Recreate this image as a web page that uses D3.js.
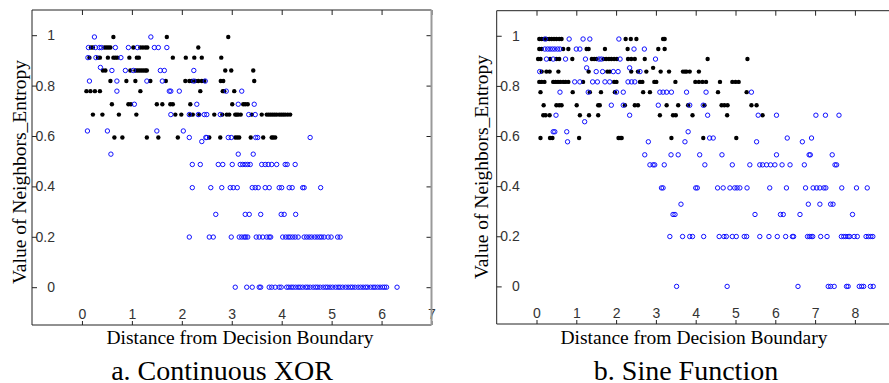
<!DOCTYPE html>
<html>
<head>
<meta charset="utf-8">
<script src="https://cdn.jsdelivr.net/npm/d3@7"></script>
<style>
	body { margin: 0; background: #fff; }
	svg { display: block; }
</style>
</head>
<body>
<div id="chart"></div>
<script>
// tick values / labels shared by both panels
var yTickValues = [0, 0.2, 0.4, 0.6, 0.8, 1],
	yTickLabels = ["0", "0.2", "0.4", "0.6", "0.8", "1"],
	xorTicks = [0, 1, 2, 3, 4, 5, 6, 7],
	sineTicks = [0, 1, 2, 3, 4, 5, 6, 7, 8, 9];

// a. Continuous XOR : entropy levels and the distances found on each level
var xorLevels = [0.993, 0.951, 0.911, 0.872, 0.860, 0.818, 0.778, 0.726, 0.685, 0.620, 0.594, 0.578, 0.528, 0.487, 0.395, 0.289, 0.199, 0];

var xorBlack = [
	[0.63, 1.70, 2.93],
	[0.18, 0.22, 0.45, 0.49, 0.53, 0.57, 1.03, 1.17, 1.22, 1.27, 1.31, 2.33],
	[0.15, 0.32, 0.36, 0.52, 0.63, 0.67, 0.71, 0.95, 1.10, 1.14, 1.82, 2.08, 2.25, 2.40, 2.79],
	[],
	[0.42, 0.47, 0.97, 1.07, 1.11, 1.15, 1.19, 1.23, 1.27, 1.30, 2.87, 2.99, 3.43],
	[0.57, 0.89, 1.07, 1.37, 1.68, 2.07, 2.15, 2.20, 2.27, 2.33, 2.40, 2.45, 2.78, 2.83, 3.45],
	[0.09, 0.17, 0.26, 0.36, 1.17, 2.37, 2.82, 2.85, 3.05],
	[0.60, 0.93, 0.98, 1.50, 1.61, 1.77, 1.82, 2.17, 3.01, 3.23, 3.27, 3.32],
	[0.22, 0.41, 0.74, 1.09, 1.87, 1.99, 2.17, 2.22, 2.35, 2.65, 2.81, 2.90, 2.95, 3.07, 3.10, 3.13, 3.18, 3.40, 3.60, 3.70, 3.74, 3.78, 3.82, 3.86, 3.90, 3.95, 3.99, 4.03, 4.07, 4.12, 4.17],
	[],
	[0.65, 0.81, 1.30, 1.53, 1.92, 2.55, 2.77, 3.07, 3.11, 3.15, 3.38, 3.63, 3.80, 3.83, 3.87],
	[], [], [], [], [], [], []
];

var xorBlue = [
	[0.25, 1.38],
	[0.13, 0.27, 0.35, 0.39, 0.67, 0.93, 1.11, 1.45, 1.53, 1.70],
	[0.12, 0.28, 0.78],
	[0.37],
	[0.60, 0.87, 1.03, 1.57, 1.65, 2.24],
	[0.15, 0.70, 1.30, 1.61, 2.24, 2.47],
	[0.70, 1.75, 1.78, 1.95, 2.89, 3.20],
	[1.05, 2.30, 3.13, 3.45],
	[1.78, 2.15, 2.33, 2.45, 2.50, 2.77, 3.34, 3.47],
	[0.11, 0.51, 1.50, 2.03],
	[2.15, 2.48, 2.50, 2.93, 2.99, 3.48, 3.52, 4.57],
	[2.40],
	[0.58, 3.13, 3.43],
	[2.21, 2.37, 2.73, 2.82, 3.01, 3.17, 3.22, 3.27, 3.32, 3.37, 3.60, 3.67, 3.73, 3.80, 3.90, 4.07, 4.11, 4.27],
	[2.21, 2.58, 2.80, 2.97, 3.03, 3.11, 3.41, 3.47, 3.53, 3.67, 3.75, 3.95, 4.00, 4.15, 4.21, 4.42, 4.45, 4.78],
	[2.68, 3.27, 3.35, 3.58, 3.99, 4.05, 4.28],
	[2.15, 2.55, 2.63, 2.99, 3.15, 3.20, 3.25, 3.28, 3.32, 3.49, 3.55, 3.62, 3.70, 3.75, 3.78, 4.02, 4.08, 4.13, 4.17, 4.22, 4.27, 4.33, 4.45, 4.50, 4.55, 4.60, 4.66, 4.71, 4.76, 4.80, 4.85, 4.93, 4.99, 5.12, 5.17],
	[3.07, 3.30, 3.41, 3.55, 3.58, 3.75, 3.80, 3.87, 3.95, 3.99, 4.10, 4.14, 4.19, 4.23, 4.28, 4.33, 4.37, 4.42, 4.48, 4.52, 4.57, 4.63, 4.68, 4.72, 4.77, 4.83, 4.88, 4.92, 4.97, 5.02, 5.08, 5.13, 5.17, 5.22, 5.28, 5.33, 5.38, 5.42, 5.47, 5.53, 5.58, 5.63, 5.68, 5.72, 5.78, 5.83, 5.87, 5.92, 5.97, 6.02, 6.06, 6.10, 6.31]
];

// b. Sine Function
var sineLevels = [0.987, 0.947, 0.907, 0.872, 0.857, 0.816, 0.775, 0.723, 0.683, 0.657, 0.617, 0.592, 0.577, 0.525, 0.485, 0.393, 0.328, 0.287, 0.199, 0];

var sineBlack = [
	[0.07, 0.13, 0.19, 0.25, 0.32, 0.38, 0.44, 0.50, 0.57, 0.63, 2.24, 2.37, 2.51, 3.18, 3.22],
	[0.07, 0.13, 0.67, 0.80, 1.26, 1.31, 1.72, 2.29, 3.06, 3.22],
	[0.04, 0.10, 0.34, 0.50, 0.57, 0.90, 1.39, 1.45, 1.51, 1.68, 1.75, 1.82, 1.88, 1.95, 2.02, 2.30, 2.38, 2.47, 2.72, 4.30, 5.30],
	[2.93],
	[0.13, 0.25, 0.33, 0.55, 1.31, 1.78, 1.84, 2.38, 2.55, 2.76, 3.12, 3.33, 3.68, 3.73, 3.77, 3.85, 4.08],
	[0.07, 0.13, 0.20, 0.42, 0.48, 0.54, 0.60, 0.67, 0.73, 0.80, 1.17, 1.95, 2.01, 2.60, 2.66, 2.96, 3.01, 3.49, 3.99, 4.08, 4.17, 4.26, 4.61, 4.92, 5.00, 5.08],
	[0.10, 0.91, 1.34, 1.62, 1.97, 2.68, 2.85, 4.56, 5.28],
	[0.18, 0.50, 0.57, 0.63, 1.01, 1.55, 1.59, 2.22, 2.47, 2.55, 3.27, 3.56, 3.81, 4.22, 4.65, 4.72, 4.80, 5.40, 5.53],
	[0.17, 0.23, 0.33, 1.09, 1.32, 1.55, 3.10, 3.43, 3.50, 3.92, 4.79, 5.68],
	[],
	[],
	[0.10, 0.34, 0.40, 1.07, 2.06, 2.10, 2.14, 3.39, 4.19, 5.02],
	[], [], [], [], [], [], [], []
];

var sineBlue = [
	[0.22, 0.82, 1.17, 1.34, 2.07],
	[0.21, 0.28, 0.34, 0.40, 0.46, 0.53, 0.59, 1.00, 1.09, 2.45, 2.71],
	[0.25, 0.42, 0.73, 1.23, 1.57, 1.63, 2.10, 2.99],
	[1.26, 2.34],
	[0.08, 1.50, 1.66, 1.93, 2.05, 2.60],
	[0.96, 1.09, 1.41, 1.53, 1.72, 1.84, 2.30, 2.39, 2.47],
	[0.59, 1.30, 2.01, 2.18, 3.10, 3.18, 3.27, 3.39, 3.77, 4.26, 5.40],
	[1.88, 2.18, 3.06, 3.85, 4.19],
	[0.49, 2.34, 4.30, 5.57, 6.03, 7.02, 7.26, 7.60],
	[1.21],
	[0.42, 0.46, 0.76, 3.81],
	[4.35, 4.44, 6.30, 6.91],
	[0.78, 2.81, 3.73, 5.53, 6.68],
	[2.72, 3.38, 3.56, 4.10, 4.66, 6.03, 6.85, 6.88, 7.43],
	[2.85, 2.93, 2.97, 3.21, 4.23, 4.92, 5.36, 5.61, 5.68, 5.78, 5.88, 5.99, 6.17, 6.37, 6.73, 7.50, 7.54],
	[3.14, 3.18, 4.00, 4.04, 4.55, 4.69, 4.86, 4.98, 5.04, 5.11, 5.29, 5.86, 6.28, 6.76, 6.95, 7.04, 7.12, 7.22, 7.27, 7.67, 8.04, 8.31],
	[3.63, 6.83, 7.12, 7.39, 7.45],
	[3.43, 3.48, 5.49, 6.13, 6.20, 6.62, 7.94],
	[3.35, 3.67, 3.85, 3.92, 4.20, 4.59, 4.71, 4.77, 4.92, 5.02, 5.22, 5.28, 5.61, 5.84, 6.05, 6.26, 6.43, 6.46, 6.81, 6.86, 6.90, 6.94, 7.14, 7.30, 7.66, 7.72, 7.77, 7.83, 7.87, 7.98, 8.06, 8.28, 8.34, 8.40, 8.45],
	[3.52, 4.79, 6.57, 7.33, 7.39, 7.48, 7.79, 7.83, 8.11, 8.17, 8.22, 8.39, 8.46]
];

var width = 889,
	height = 383;

var svg = d3.select("#chart").append("svg")
			.attr("width", width)
			.attr("height", height);

//turn level + rows into flat point list
function toPoints(levels, rows){
	var pts = [];
	rows.forEach(function(row, i){
		row.forEach(function(d){
			pts.push({x: d, y: levels[i]});
		});
	});
	return pts;
}

function styleAxis(ag){
	ag.attr("font-family", "Liberation Sans");
	ag.select(".domain").remove();
	ag.selectAll("line").attr("stroke", "#222");
	ag.selectAll("text")
		.attr("font-family", "Liberation Sans")
		.attr("font-size", 14)
		.attr("fill", "#333");
	return ag;
}

function drawPanel(opt){
	var g = svg.append("g");

	var x = d3.scaleLinear().domain(opt.xDomain).range(opt.xRange),
		y = d3.scaleLinear().domain([-0.15, 1.1]).range(opt.yRange);

	var left = opt.xRange[0], right = opt.xRange[1],
		top = opt.yRange[1], bottom = opt.yRange[0];

	//left axis, labels inside the box
	var yl = styleAxis(g.append("g")
		.attr("transform", "translate(" + left + ",0)")
		.call(d3.axisLeft(y).tickValues(yTickValues).tickSize(-5).tickSizeOuter(0)
			.tickFormat(function(d){ return yTickLabels[yTickValues.indexOf(d)]; })));
	yl.selectAll("text").attr("x", 23).attr("text-anchor", "end");

	//right side ticks only
	styleAxis(g.append("g")
		.attr("transform", "translate(" + right + ",0)")
		.call(d3.axisRight(y).tickValues(yTickValues).tickSize(-5).tickSizeOuter(0).tickFormat("")));

	//top ticks only
	styleAxis(g.append("g")
		.attr("transform", "translate(0," + top + ")")
		.call(d3.axisTop(x).tickValues(opt.ticks).tickSize(-5).tickSizeOuter(0).tickFormat("")));

	//bottom axis, labels just above the edge
	var xb = styleAxis(g.append("g")
		.attr("transform", "translate(0," + bottom + ")")
		.call(d3.axisBottom(x).tickValues(opt.ticks).tickSize(-4).tickSizeOuter(0)));
	xb.selectAll("text").attr("y", -16);

	//the box
	g.append("path")
		.attr("d", "M" + right + "," + top + "H" + left + "V" + bottom + "H" + right)
		.attr("fill", "none")
		.attr("stroke", "#222")
		.attr("stroke-width", 1);
	g.append("line")
		.attr("x1", right).attr("x2", right)
		.attr("y1", top).attr("y2", bottom)
		.attr("stroke", "#999")
		.attr("stroke-width", 2);

	//black dots then blue rings
	g.append("g").selectAll("circle")
		.data(toPoints(opt.levels, opt.black))
		.enter().append("circle")
		.attr("cx", function(d){ return x(d.x); })
		.attr("cy", function(d){ return y(d.y); })
		.attr("r", 2.2)
		.attr("fill", "#000");

	g.append("g").selectAll("circle")
		.data(toPoints(opt.levels, opt.blue))
		.enter().append("circle")
		.attr("cx", function(d){ return x(d.x); })
		.attr("cy", function(d){ return y(d.y); })
		.attr("r", 2.2)
		.attr("fill", "none")
		.attr("stroke", "#1010ff")
		.attr("stroke-width", 1);

	//titles
	g.append("text")
		.attr("x", opt.xTitleX).attr("y", 344)
		.attr("text-anchor", "middle")
		.attr("font-family", "Liberation Serif")
		.attr("font-size", 19.5)
		.attr("fill", "#000")
		.text("Distance from Decision Boundary");

	g.append("text")
		.attr("transform", "translate(" + opt.yTitleX + "," + opt.yTitleY + ") rotate(-90)")
		.attr("text-anchor", "middle")
		.attr("font-family", "Liberation Serif")
		.attr("font-size", 19.5)
		.attr("fill", "#000")
		.text("Value of Neighbors_Entropy");

	g.append("text")
		.attr("x", opt.capX).attr("y", 380)
		.attr("text-anchor", "middle")
		.attr("font-family", "Liberation Serif")
		.attr("font-size", 28)
		.attr("fill", "#000")
		.text(opt.caption);
}

drawPanel({
	xDomain: [-1, 7], xRange: [32, 431.5], yRange: [325, 10],
	ticks: xorTicks, levels: xorLevels, black: xorBlack, blue: xorBlue,
	xTitleX: 240, yTitleX: 26, yTitleY: 172, capX: 222, caption: "a. Continuous XOR"
});

drawPanel({
	xDomain: [-1, 10], xRange: [496.7, 934.5], yRange: [324, 10.7],
	ticks: sineTicks, levels: sineLevels, black: sineBlack, blue: sineBlue,
	xTitleX: 694, yTitleX: 488, yTitleY: 167, capX: 686, caption: "b. Sine Function"
});
</script>
</body>
</html>
